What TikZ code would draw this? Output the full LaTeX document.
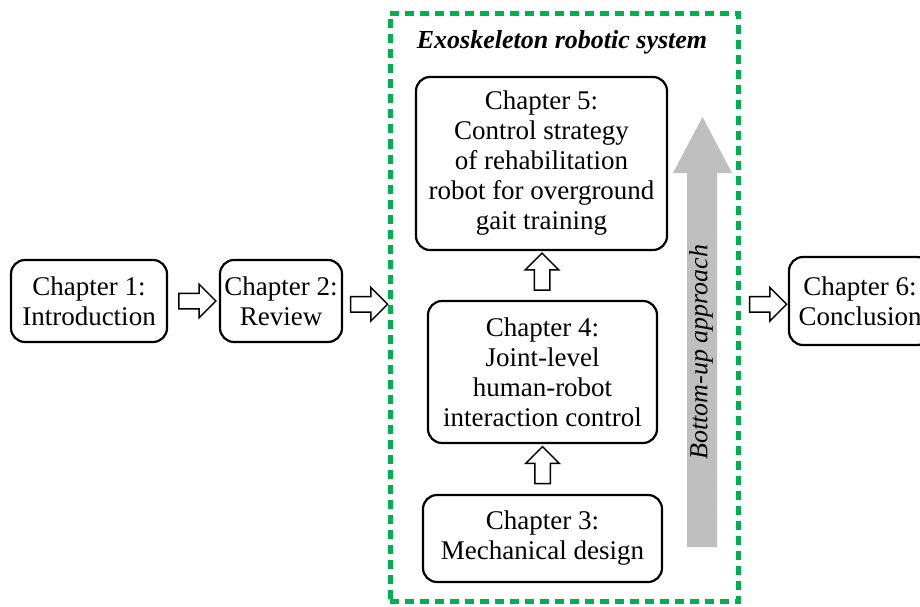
\documentclass[tikz,border=0pt]{standalone}
\usepackage{fontspec}
\setmainfont{Liberation Serif}
\usetikzlibrary{shapes.arrows,calc}
\definecolor{exgreen}{RGB}{0,176,80}
\definecolor{upgrey}{RGB}{191,191,191}
\begin{document}
\begin{tikzpicture}[x=1pt,y=-1pt,
  chap/.style={draw, line width=2.2pt, rounded corners=14pt, align=center, inner sep=1pt,
    font=\fontsize{27}{30}\selectfont},
  barrow/.style={single arrow, draw, line width=1.5pt, fill=white, inner sep=7pt,
    single arrow head extend=9pt, minimum height=37pt, single arrow head indent=0pt},
  sysbox/.style={draw=exgreen, line width=5pt, dash pattern=on 9pt off 6pt}]
\useasboundingbox (0,0) rectangle (920,607);
% green system box
\node[sysbox, minimum width=348pt, minimum height=588pt] (sys) at (564,307.5) {};
\node[font=\fontsize{26}{30}\selectfont\bfseries\itshape] (title) at (562,42) {Exoskeleton robotic system};
% chapters
\node[chap, minimum width=156pt, minimum height=82pt] (c1) at (89,301) {Chapter 1:\\Introduction};
\node[chap, minimum width=122pt, minimum height=82pt] (c2) at (281,301) {Chapter 2:\\Review};
\node[chap, minimum width=251pt, minimum height=173pt] (c5) at (541.5,163.5) {Chapter 5:\\Control strategy\\of rehabilitation\\robot for overground\\gait training};
\node[chap, minimum width=229pt, minimum height=142pt] (c4) at (542.5,372) {Chapter 4:\\Joint-level\\human-robot\\interaction control};
\node[chap, minimum width=239pt, minimum height=87pt] (c3) at (542.5,538.5) {Chapter 3:\\Mechanical design};
\node[chap, minimum width=142pt, minimum height=88pt] (c6) at (860,301) {Chapter 6:\\Conclusion};
% block arrows
\node[barrow] (a12) at ($(c1.east)!0.5!(c2.west)$) {};
\node[barrow] (a2s) at ($(c2.east)!0.5!(sys.west)$) {};
\node[barrow] (as6) at ($(sys.east)!0.5!(c6.west)$) {};
\node[barrow, shape border rotate=90] (a34) at ($(c3.north)!0.5!(c4.south)$) {};
\node[barrow, shape border rotate=90] (a45) at ($(c4.north)!0.5!(c5.south)$) {};
% bottom-up arrow
\fill[upgrey] (687,547) -- (687,173) -- (673,173) -- (702.5,117) -- (732,173) -- (717,173) -- (717,547) -- cycle;
\node[rotate=90, font=\fontsize{26}{30}\selectfont\itshape] (bu) at (701,352) {Bottom-up approach};
\end{tikzpicture}
\end{document}
